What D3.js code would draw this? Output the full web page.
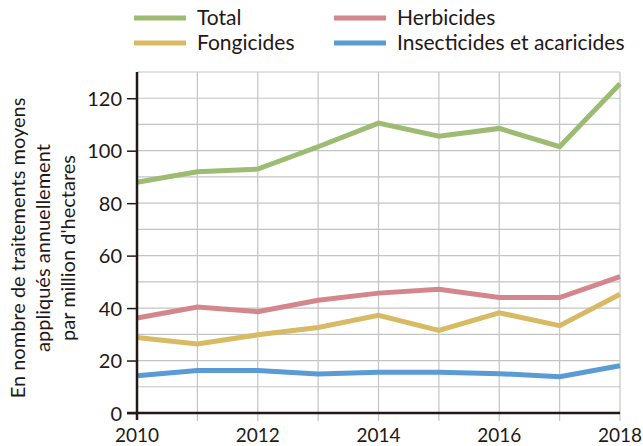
<!DOCTYPE html>
<html>
<head>
<meta charset="utf-8">
<script src="https://cdn.jsdelivr.net/npm/d3@7"></script>
<style>
  body { margin: 0; background: #fff; }
  svg text { font-family: "Lato", "Open Sans", sans-serif; fill: #231815; }
</style>
</head>
<body>
<div id="chart"></div>
<script>
// values
const years = [2010, 2011, 2012, 2013, 2014, 2015, 2016, 2017, 2018];
const total = [88, 92, 93, 101.5, 110.5, 105.5, 108.5, 101.5, 125.5];
const herbicides = [36.2, 40.4, 38.6, 43, 45.7, 47.2, 44, 44, 52];
const fongicides = [28.8, 26.3, 29.8, 32.6, 37.2, 31.5, 38.2, 33.3, 45.3];
const insecticides = [14.2, 16.2, 16.2, 14.9, 15.5, 15.5, 15, 13.8, 18];
const seriesNames = ["Total", "Herbicides", "Fongicides", "Insecticides et acaricides"];
const seriesColors = ["#9dbb72", "#d3878d", "#d8ba64", "#5b9bd5"];
const yTicks = [0, 20, 40, 60, 80, 100, 120];
const xTicks = [2010, 2012, 2014, 2016, 2018];
const yLabelLines = ["En nombre de traitements moyens", "appliqués annuellement", "par million d'hectares"];

const W = 643, H = 446;
const margin = { top: 72, right: 23, bottom: 33, left: 137 };
const width = W - margin.left - margin.right,
  height = H - margin.top - margin.bottom;

const svg = d3.select("#chart")
  .append("svg")
  .attr("width", W)
  .attr("height", H);

const g = svg.append("g")
  .attr("transform", `translate(${margin.left},${margin.top})`);

const x = d3.scaleLinear().domain([2010, 2018]).range([0, width]);
const y = d3.scaleLinear().domain([0, 130]).range([height, 0]);

// horizontal grid, every 10
g.append("g")
  .selectAll("line")
  .data(d3.range(10, 131, 10))
  .enter().append("line")
  .attr("x1", 0).attr("x2", width)
  .attr("y1", d => y(d)).attr("y2", d => y(d))
  .attr("stroke", "#c4c4c4")
  .attr("stroke-width", 1.2);

// vertical grid, every year (runs a bit below the axis)
g.append("g")
  .selectAll("line")
  .data(years.slice(1))
  .enter().append("line")
  .attr("x1", d => x(d)).attr("x2", d => x(d))
  .attr("y1", 0).attr("y2", height + 8)
  .attr("stroke", "#c4c4c4")
  .attr("stroke-width", 1.2);

// lines
const line = d3.line()
  .x((d, i) => x(years[i]))
  .y(d => y(d));

const allSeries = [total, herbicides, fongicides, insecticides];
allSeries.forEach((vals, i) => {
  g.append("path")
    .datum(vals)
    .attr("fill", "none")
    .attr("stroke", seriesColors[i])
    .attr("stroke-width", 5)
    .attr("stroke-linejoin", "miter")
    .attr("d", line);
});

// y axis
const yAxis = g.append("g")
  .call(d3.axisLeft(y).tickValues(yTicks).tickSize(10).tickPadding(5));
yAxis.select(".domain").remove();
yAxis.selectAll("line").attr("stroke", "#231815").attr("stroke-width", 1.5);
yAxis.selectAll("text")
  .style("font-size", "20px")
  .attr("dy", "0.35em");

g.append("line")
  .attr("x1", 0).attr("x2", 0)
  .attr("y1", 0).attr("y2", height + 7)
  .attr("stroke", "#231815")
  .attr("stroke-width", 2.5);

// x axis
g.append("line")
  .attr("x1", -10).attr("x2", width)
  .attr("y1", height).attr("y2", height)
  .attr("stroke", "#231815")
  .attr("stroke-width", 2.5);

g.append("g")
  .selectAll("text")
  .data(xTicks)
  .enter().append("text")
  .attr("x", d => x(d))
  .attr("y", height + 22)
  .attr("dy", "0.35em")
  .attr("text-anchor", "middle")
  .style("font-size", "19px")
  .text(d => d);

// y label
const yLabel = svg.append("text")
  .attr("transform", `translate(25,${margin.top + 176}) rotate(-90)`)
  .attr("text-anchor", "middle")
  .style("font-size", "20px");
yLabel.selectAll("tspan")
  .data(yLabelLines)
  .enter().append("tspan")
  .attr("x", 0)
  .attr("dy", (d, i) => i === 0 ? 0 : 25)
  .text(d => d);

// legend
const legendPos = [
  { x: 134, y: 18 }, { x: 334, y: 18 },
  { x: 134, y: 43 }, { x: 334, y: 43 }
];
const legend = svg.append("g")
  .selectAll("g")
  .data(seriesNames)
  .enter().append("g")
  .attr("transform", (d, i) => `translate(${legendPos[i].x},${legendPos[i].y})`);

legend.append("line")
  .attr("x1", 0).attr("x2", 52)
  .attr("stroke", (d, i) => seriesColors[i])
  .attr("stroke-width", 5);

legend.append("text")
  .attr("x", 63)
  .attr("dy", "0.35em")
  .style("font-size", "21px")
  .text(d => d);
</script>
</body>
</html>
